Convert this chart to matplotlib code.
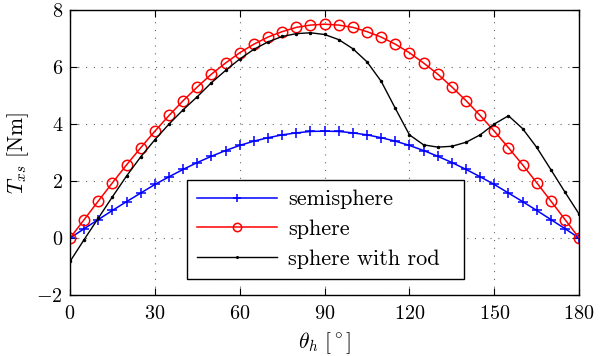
import matplotlib
matplotlib.use("Agg")
import matplotlib.pyplot as plt

plt.rcParams['font.family'] = ['cmr10', 'DejaVu Serif']
plt.rcParams['mathtext.fontset'] = 'cm'
plt.rcParams['axes.formatter.use_mathtext'] = True
plt.rcParams['axes.unicode_minus'] = True

theta = [0, 5, 10, 15, 20, 25, 30, 35, 40, 45, 50, 55, 60, 65, 70, 75, 80, 85, 90,
         95, 100, 105, 110, 115, 120, 125, 130, 135, 140, 145, 150, 155, 160, 165, 170, 175, 180]

semisphere = [0.0, 0.33, 0.65, 0.97, 1.28, 1.58, 1.88, 2.15, 2.41, 2.65, 2.87, 3.07, 3.25,
              3.40, 3.52, 3.62, 3.69, 3.74, 3.75, 3.74, 3.69, 3.62, 3.52, 3.40, 3.25, 3.07,
              2.87, 2.65, 2.41, 2.15, 1.88, 1.58, 1.28, 0.97, 0.65, 0.33, 0.0]

sphere = [0.0, 0.65, 1.30, 1.94, 2.57, 3.17, 3.75, 4.30, 4.82, 5.30, 5.75, 6.14, 6.50,
          6.80, 7.05, 7.24, 7.39, 7.47, 7.50, 7.47, 7.39, 7.24, 7.05, 6.80, 6.50, 6.14,
          5.75, 5.30, 4.82, 4.30, 3.75, 3.17, 2.57, 1.94, 1.30, 0.65, 0.0]

sphere_rod = [-0.82, -0.05, 0.70, 1.45, 2.18, 2.85, 3.45, 4.00, 4.50, 4.96, 5.45, 5.88,
              6.28, 6.62, 6.88, 7.07, 7.17, 7.20, 7.14, 6.96, 6.64, 6.18, 5.50, 4.55,
              3.62, 3.27, 3.19, 3.22, 3.36, 3.62, 4.00, 4.29, 3.84, 3.18, 2.40, 1.61, 0.84]

xticks = [0, 30, 60, 90, 120, 150, 180]
yticks = [-2, 0, 2, 4, 6, 8]

fig = plt.figure(figsize=(6.09, 3.56), dpi=100)
ax = fig.add_axes([0.115, 0.171, 0.836, 0.801])

ax.plot(theta, semisphere, color=(0, 0, 1), lw=1.1, marker='+', ms=6.5, mew=1.1,
        label='semisphere')
ax.plot(theta, sphere, color=(1, 0, 0), lw=1.1, marker='o', ms=7.5, mfc='none', mew=1.1,
        label='sphere')
ax.plot(theta, sphere_rod, color='black', lw=1.0, marker='.', ms=3,
        label='sphere with rod')

ax.set_xlim(0, 180)
ax.set_ylim(-2, 8)
ax.set_xticks(xticks)
ax.set_yticks(yticks)
ax.grid(True, linestyle=(0, (1, 6)), color='#666666', lw=0.8)
ax.tick_params(direction='in', top=True, right=True, length=5, labelsize=14.5, width=0.8)
ax.tick_params(axis='x', pad=7)
ax.tick_params(axis='y', pad=5)
for s in ax.spines.values():
    s.set_linewidth(1.0)

ax.set_xlabel(r'$\theta_h\ [^\circ]$', fontsize=15.5, labelpad=5)
ax.set_ylabel(r'$T_{xs}$ [Nm]', fontsize=15.5, labelpad=4)

leg = ax.legend(loc='upper left', bbox_to_anchor=(0.230, 0.404, 0.544, 0.0),
                mode='expand', fontsize=16, frameon=True, fancybox=False,
                edgecolor='black', borderpad=0.45, handlelength=3.6, labelspacing=0.45,
                borderaxespad=0, handletextpad=0.5, numpoints=1, markerscale=0.8)
leg.get_frame().set_linewidth(1.0)
leg.get_frame().set_alpha(1)

fig.savefig('out.png', dpi=100)
